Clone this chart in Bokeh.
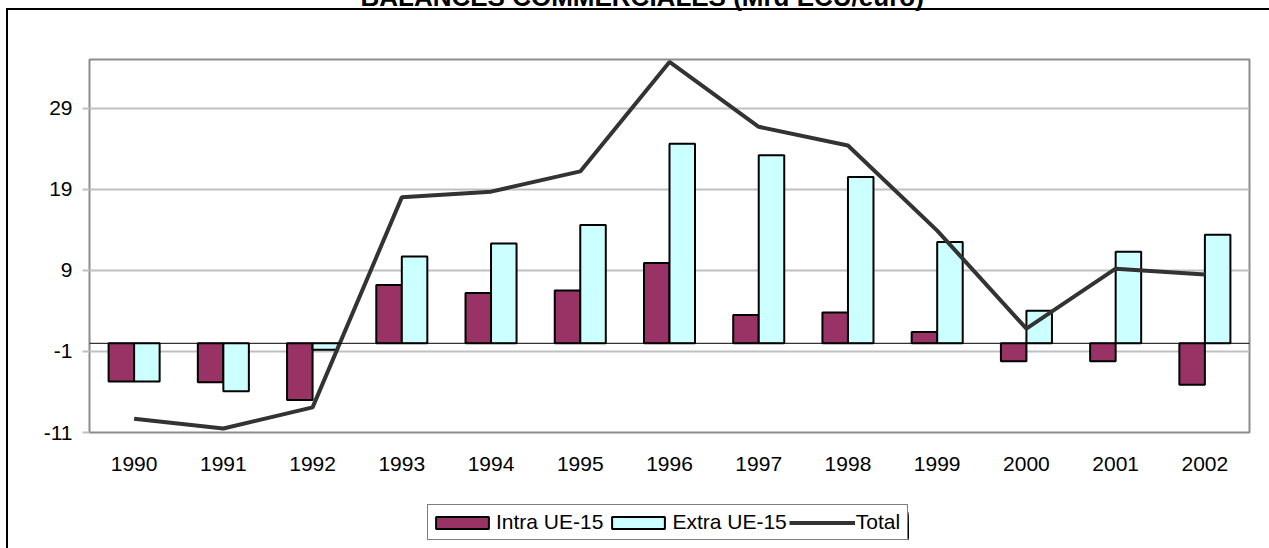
from bokeh.plotting import figure
from bokeh.models import (FactorRange, Range1d, FixedTicker, Span, Legend, LegendItem,
                          ColumnDataSource)
from bokeh.transform import dodge
from bokeh.embed import file_html
from bokeh.resources import INLINE

# ---- data ----
years = ["1990", "1991", "1992", "1993", "1994", "1995", "1996",
         "1997", "1998", "1999", "2000", "2001", "2002"]
intra = [-4.7, -4.8, -7.0, 7.2, 6.2, 6.5, 9.9, 3.5, 3.8, 1.4, -2.2, -2.2, -5.1]
extra = [-4.7, -5.9, -0.8, 10.7, 12.3, 14.6, 24.6, 23.2, 20.5, 12.5, 4.0, 11.3, 13.4]
total = [-9.3, -10.5, -7.9, 18.0, 18.7, 21.2, 34.7, 26.7, 24.4, 13.9, 1.8, 9.2, 8.5]
y_ticks = [-11, -1, 9, 19, 29]
series_names = ["Intra UE-15", "Extra UE-15", "Total"]
title_text = "BALANCES COMMERCIALES (Mrd ECU/euro)"

FONT = "Liberation Sans"
C_INTRA = "#993366"
C_EXTRA = "#CCFFFF"
C_TOTAL = "#333333"

SHIFT = 75               # figure raised by this many px (title is cut off at the top)
FL, FT = 89, 59 + SHIFT  # frame left / top inside figure
FW, FH = 1160, 373       # frame size
BT = 8 + SHIFT           # outer border top inside figure

src = ColumnDataSource(dict(year=years, intra=intra, extra=extra, total=total))

p = figure(x_range=FactorRange(*years, range_padding=0), y_range=Range1d(-11, 35),
           frame_width=FW, frame_height=FH,
           min_border_left=FL, min_border_right=20, min_border_top=FT, min_border_bottom=116,
           title=title_text, output_backend="svg", toolbar_location=None)
p.styles = {
    "margin-top": f"-{SHIFT}px",
    "background": (f"linear-gradient(#000,#000) 6px {BT}px / 2px calc(100% - {BT}px) no-repeat, "
                   f"linear-gradient(#000,#000) 6px {BT}px / calc(100% - 6px) 2px no-repeat, #fff"),
}

p.background_fill_color = "white"
p.border_fill_alpha = 0
p.outline_line_color = "#8c8c8c"
p.outline_line_width = 2

# title
p.title.align = "left"
p.title.offset = 271
p.title.vertical_align = "top"
p.title.standoff = 92
p.title.text_font = FONT
p.title.text_font_style = "bold"
p.title.text_font_size = "26px"
p.title.text_color = "black"

# axes
p.yaxis.ticker = FixedTicker(ticks=y_ticks)
p.yaxis.major_label_overrides = {t: str(t) for t in y_ticks}
p.yaxis.axis_line_color = None
p.yaxis.major_tick_out = 7
p.yaxis.major_tick_in = 0
p.yaxis.major_tick_line_color = "#c0c0c0"
p.yaxis.major_tick_line_width = 2
p.yaxis.minor_tick_line_color = None
p.yaxis.major_label_standoff = 10
p.yaxis.major_label_text_font = FONT
p.yaxis.major_label_text_font_size = "21px"
p.yaxis.major_label_text_color = "black"

p.xaxis.axis_line_color = None
p.xaxis.major_tick_line_color = None
p.xaxis.major_label_standoff = 18
p.xaxis.major_label_text_font = FONT
p.xaxis.major_label_text_font_size = "21px"
p.xaxis.major_label_text_color = "black"

p.xgrid.grid_line_color = None
p.ygrid.ticker = FixedTicker(ticks=y_ticks)
p.ygrid.grid_line_color = "#c0c0c0"
p.ygrid.grid_line_width = 2

# bars
bar_style = dict(width=0.286, bottom=0, line_color="black", line_width=2)
r1 = p.vbar(x=dodge("year", -0.143, range=p.x_range), top="intra", source=src,
            fill_color=C_INTRA, **bar_style)
r2 = p.vbar(x=dodge("year", 0.143, range=p.x_range), top="extra", source=src,
            fill_color=C_EXTRA, **bar_style)

p.add_layout(Span(location=0, dimension="width", line_color="black", line_width=1))

r3 = p.line(x="year", y="total", source=src, line_color=C_TOTAL, line_width=4)

# ---- legend: a small companion figure placed under the x axis ----
# (same series, shifted out of this little frame, so only the legend keys show)
lg = figure(width=483, height=40, x_range=FactorRange(*years), y_range=Range1d(-11, 35),
            min_border=0, output_backend="svg", toolbar_location=None)
lg.styles = {"position": "absolute", "left": "426px", "top": "503px"}
lg.axis.visible = False
lg.grid.visible = False
lg.outline_line_color = None
lg.background_fill_color = "white"
lg.border_fill_color = "white"
k1 = lg.vbar(x=dodge("year", 20, range=lg.x_range), top="intra", source=src,
             fill_color=C_INTRA, **bar_style)
k2 = lg.vbar(x=dodge("year", 20, range=lg.x_range), top="extra", source=src,
             fill_color=C_EXTRA, **bar_style)
k3 = lg.line(x=dodge("year", 20, range=lg.x_range), y="total", source=src,
             line_color=C_TOTAL, line_width=4)

legend = Legend(items=[LegendItem(label=series_names[0], renderers=[k1]),
                       LegendItem(label=series_names[1], renderers=[k2]),
                       LegendItem(label=series_names[2], renderers=[k3])],
                orientation="horizontal", location="top_left",
                padding=1, spacing=2, margin=1,
                glyph_width=66, glyph_height=15, label_standoff=1,
                label_height=32, label_width=50,
                label_text_font=FONT, label_text_font_size="21px", label_text_color="black",
                border_line_color="black", border_line_width=1,
                background_fill_color="white", background_fill_alpha=1)
lg.add_layout(legend)

open("out.html", "w").write(file_html([p, lg], INLINE))
